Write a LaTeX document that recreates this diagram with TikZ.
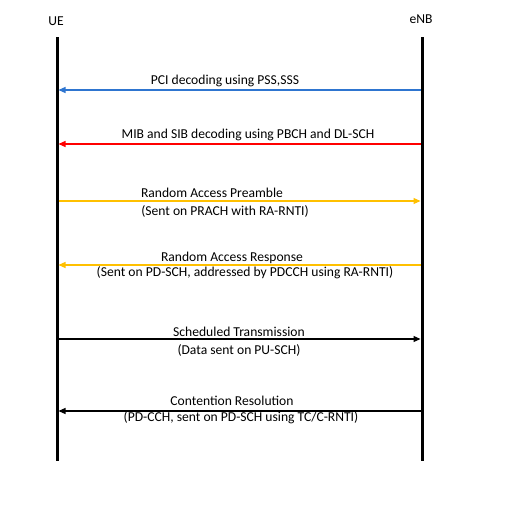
\documentclass[tikz,border=0pt]{standalone}
\usepackage{fontspec}
\setmainfont{Carlito}
\usetikzlibrary{arrows.meta}
\definecolor{msgblue}{RGB}{46,117,208}
\definecolor{msgred}{RGB}{255,0,0}
\definecolor{msgyellow}{RGB}{255,192,0}
\tikzset{
  lifeline/.style={line width=3pt,black},
  msg/.style={line width=1.2pt,-{Triangle[length=7pt,width=6pt]}},
  lbl/.style={font=\fontsize{13.6}{15}\selectfont,inner sep=0pt,anchor=center},
  actor/.style={font=\fontsize{13.6}{15}\selectfont,inner sep=0pt}
}
\begin{document}
\begin{tikzpicture}[x=1pt,y=-1pt]
\useasboundingbox[fill=white] (0,0) rectangle (512,512);
\node[actor] (uelbl) at (56,21) {UE};
\node[actor] (enblbl) at (421,19) {eNB};
\coordinate (uetop) at (57,37);
\coordinate (uebot) at (57,461);
\coordinate (enbtop) at (422,37);
\coordinate (enbbot) at (422,461);
\draw[lifeline] (uetop) -- (uebot);
\draw[lifeline] (enbtop) -- (enbbot);
\foreach \n/\y in {a/90,b/144,c/201,d/265,e/339,f/411}{
  \coordinate (u\n) at (58.5,\y);
  \coordinate (e\n) at (420.5,\y);
}
\draw[msg,msgblue] (ea) -- (ua);
\draw[msg,msgred] (eb) -- (ub);
\draw[msg,msgyellow] (uc) -- (ec);
\draw[msg,msgyellow] (ed) -- (ud);
\draw[msg,black] (ue) -- (ee);
\draw[msg,black] (ef) -- (uf);
\node[lbl] (la) at (225,81) {PCI decoding using PSS,SSS};
\node[lbl] (lb) at (248,135) {MIB and SIB decoding using PBCH and DL-SCH};
\node[lbl] (lc1) at (212,193) {Random Access Preamble};
\node[lbl] (lc2) at (225,211) {(Sent on PRACH with RA-RNTI)};
\node[lbl] (ld1) at (232,258) {Random Access Response};
\node[lbl] (ld2) at (245,273) {(Sent on PD-SCH, addressed by PDCCH using RA-RNTI)};
\node[lbl] (le1) at (239,332) {Scheduled Transmission};
\node[lbl] (le2) at (239,350) {(Data sent on PU-SCH)};
\node[lbl] (lf1) at (232,401) {Contention Resolution};
\node[lbl] (lf2) at (241,418) {(PD-CCH, sent on PD-SCH using TC/C-RNTI)};
\end{tikzpicture}
\end{document}
